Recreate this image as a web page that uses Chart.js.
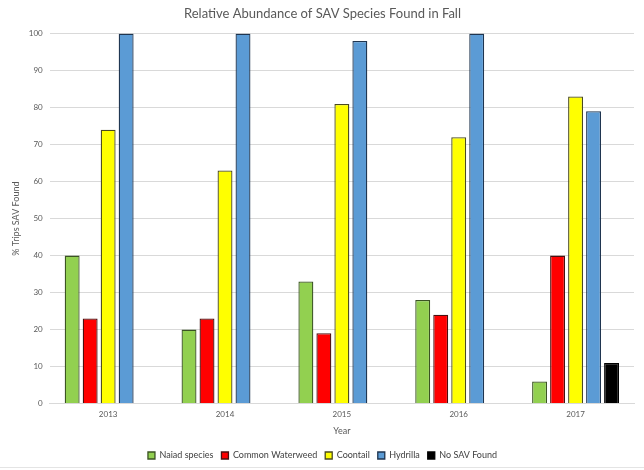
<!DOCTYPE html>
<html>
<head>
<meta charset="utf-8">
<script src="https://cdn.jsdelivr.net/npm/chart.js@4"></script>
<style>
  html, body { margin: 0; padding: 0; background: #fff; }
  #wrap { width: 644px; height: 470px; position: relative; }
  #wrap .edge { position: absolute; left: 0; right: 0; top: 467px; height: 1px; background: #e4e4e4; }
</style>
</head>
<body>
<div id="wrap"><canvas id="chart"></canvas><div class="edge"></div></div>
<script>
'use strict';

// ── data ─────────────────────────────────────────────
const years = ['2013', '2014', '2015', '2016', '2017'];
const naiad      = [40, 20, 33, 28, 6];
const waterweed  = [23, 23, 19, 24, 40];
const coontail   = [74, 63, 81, 72, 83];
const hydrilla   = [100, 100, 98, 100, 79];
const noSav      = [null, null, null, null, 11];
const yTicks     = [0, 10, 20, 30, 40, 50, 60, 70, 80, 90, 100];

const FONT = 'Lato, "Open Sans", sans-serif';

function series(label, data, fill, edge) {
  return {
    label, data,
    backgroundColor: fill,
    borderColor: edge,
    borderWidth: 1.3,
    categoryPercentage: 0.77,
    barPercentage: 0.83,
  };
}

new Chart(document.getElementById('chart'), {
  type: 'bar',
  data: {
    labels: years,
    datasets: [
      series('Naiad species', naiad, '#92D050', '#3b5323'),
      series('Common Waterweed', waterweed, '#FF0000', '#4a1010'),
      series('Coontail', coontail, '#FFFF00', '#4a4a20'),
      series('Hydrilla', hydrilla, '#5B9BD5', '#1f3550'),
      series('No SAV Found', noSav, '#000000', '#000000'),
    ]
  },
  options: {
    responsive: true,
    maintainAspectRatio: false,
    animation: false,
    layout: { padding: { left: 11, right: 10, top: 4, bottom: 0 } },
    plugins: {
      title: {
        display: true,
        text: 'Relative Abundance of SAV Species Found in Fall',
        color: '#595959',
        font: { family: FONT, size: 13, weight: 'normal' },
        padding: { top: 2, bottom: 12 }
      },
      legend: {
        position: 'bottom',
        labels: {
          color: '#404040',
          font: { family: FONT, size: 9 },
          boxWidth: 7,
          boxHeight: 7,
          padding: 8,
        }
      },
      tooltip: { enabled: false }
    },
    scales: {
      x: {
        grid: { display: false, drawTicks: false },
        border: { color: '#d9d9d9' },
        ticks: { color: '#595959', font: { family: FONT, size: 8 }, padding: 6 },
        title: {
          display: true, text: 'Year', color: '#595959',
          font: { family: FONT, size: 9 }, padding: { top: 0, bottom: 7 }
        }
      },
      y: {
        min: 0, max: 100,
        afterBuildTicks: axis => { axis.ticks = yTicks.map(v => ({ value: v })); },
        grid: { color: '#d9d9d9', drawTicks: false },
        border: { display: false },
        ticks: { color: '#595959', font: { family: FONT, size: 8 }, padding: 7 },
        title: {
          display: true, text: '% Trips SAV Found', color: '#595959',
          font: { family: FONT, size: 9 }, padding: { top: 0, bottom: 0 }
        }
      }
    }
  }
});
</script>
</body>
</html>
